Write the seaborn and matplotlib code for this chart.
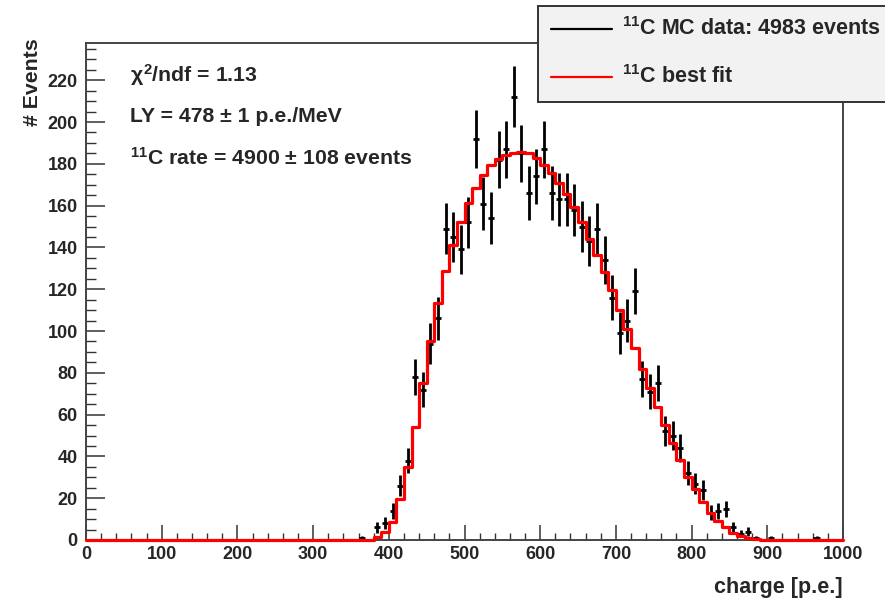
import matplotlib
matplotlib.use("Agg")

import matplotlib.pyplot as plt
import numpy as np
import pandas as pd
import seaborn as sns
from matplotlib.lines import Line2D
from matplotlib.patches import Rectangle
from matplotlib.ticker import MultipleLocator

# MC data histogram (bin centres, 10 p.e. bins; empty bins left out)
DATA_CENTERS = [365, 385, 395, 405, 415, 425, 435, 445, 455, 465, 475, 485, 495,
                505, 515, 525, 535, 545, 555, 565, 575, 585, 595, 605, 615, 625,
                635, 645, 655, 665, 675, 685, 695, 705, 715, 725, 735, 745, 755,
                765, 775, 785, 795, 805, 815, 825, 835, 845, 855, 865, 875, 885,
                905, 965]
DATA_COUNTS = [1, 6, 8, 14, 26, 38, 78, 72, 94, 106, 149, 145, 139,
               152, 192, 161, 154, 182, 187, 212, 185, 166, 174, 187, 166, 163,
               163, 158, 150, 143, 149, 134, 116, 99, 105, 119, 77, 71, 75,
               52, 50, 44, 32, 27, 24, 13, 14, 15, 6, 3, 4, 1,
               1, 1]

# best fit histogram
FIT_CENTERS = [385, 395, 405, 415, 425, 435, 445, 455, 465, 475, 485, 495, 505,
               515, 525, 535, 545, 555, 565, 575, 585, 595, 605, 615, 625, 635,
               645, 655, 665, 675, 685, 695, 705, 715, 725, 735, 745, 755, 765,
               775, 785, 795, 805, 815, 825, 835, 845, 855, 865, 875, 885]
FIT_COUNTS = [1.5, 4.0, 8.8, 19.5, 34.8, 54.2, 75.3, 95.2, 113.2, 128.7, 141.1,
              152.3, 161.1, 168.5, 174.5, 179.3, 182.5, 184.3, 185.3, 185.5,
              185.3, 182.8, 179.5, 175.6, 170.8, 165.5, 159.5, 152.0, 144.0,
              136.4, 128.4, 119.6, 110.0, 100.8, 91.7, 81.7, 72.6, 63.8, 54.8,
              46.5, 38.5, 30.3, 24.5, 18.3, 13.1, 9.2, 6.4, 3.5, 1.9, 1.1, 0.3]

STATS_TEXT = [
    r"$\chi^{2}$/ndf = 1.13",
    "LY = 478 ± 1 p.e./MeV",
    r"$^{11}$C rate = 4900 ± 108 events",
]
LEGEND_LABELS = [r"$^{11}$C MC data: 4983 events", r"$^{11}$C best fit"]

sns.set_theme(style="white")
plt.rcParams["font.family"] = ["Liberation Sans", "DejaVu Sans"]
plt.rcParams["font.weight"] = "bold"
plt.rcParams["mathtext.fontset"] = "custom"
plt.rcParams["mathtext.rm"] = "Liberation Sans:bold"
plt.rcParams["mathtext.it"] = "Liberation Sans:bold"
plt.rcParams["mathtext.bf"] = "Liberation Sans:bold"
plt.rcParams["mathtext.sf"] = "Liberation Sans:bold"

W, H = 885, 603
fig = plt.figure(figsize=(W / 100, H / 100), dpi=100)
ax = fig.add_axes([86 / W, 63 / H, (843 - 86) / W, (540 - 43) / H])

counts = np.array(DATA_COUNTS, dtype=float)
ax.errorbar(DATA_CENTERS, counts, yerr=np.sqrt(counts), xerr=4, fmt="none",
            ecolor="black", elinewidth=2.0, capsize=0, zorder=3)

fit_df = pd.DataFrame({"charge": FIT_CENTERS, "fit": FIT_COUNTS})
sns.histplot(data=fit_df, x="charge", weights="fit", binwidth=10,
             binrange=(0, 1000), element="step", fill=False, color="red",
             linewidth=2.3, ax=ax)
for line in ax.lines:
    line.set_clip_on(False)
    line.set_zorder(4)

ax.set_xlim(0, 1000)
ax.set_ylim(0, 237.8)
ax.set_xlabel("")
ax.set_ylabel("")

ax.xaxis.set_major_locator(MultipleLocator(100))
ax.xaxis.set_minor_locator(MultipleLocator(20))
ax.yaxis.set_major_locator(MultipleLocator(20))
ax.yaxis.set_minor_locator(MultipleLocator(5))
ax.tick_params(axis="x", which="major", direction="in", length=10.5, width=1.1,
               color="#333333", labelsize=13, pad=4, bottom=True)
ax.tick_params(axis="x", which="minor", direction="in", length=5.3, width=1.0,
               color="#333333", bottom=True)
ax.tick_params(axis="y", which="major", direction="in", length=14, width=1.1,
               color="#333333", labelsize=13, pad=6, left=True)
ax.tick_params(axis="y", which="minor", direction="in", length=7, width=1.0,
               color="#333333", left=True)
for lab in ax.get_xticklabels() + ax.get_yticklabels():
    lab.set_fontweight("bold")
for spine in ax.spines.values():
    spine.set_color("#444444")
    spine.set_linewidth(1.4)

y_pos = [0.936, 0.853, 0.769]
for txt, yy in zip(STATS_TEXT, y_pos):
    ax.text(0.058, yy, txt, transform=ax.transAxes, fontsize=15.3,
            fontweight="bold", va="center", ha="left")

fig.text(843 / W, 1 - 588 / H, "charge [p.e.]", fontsize=15.5,
         fontweight="bold", ha="right", va="center")
fig.text(33 / W, 1 - 38 / H, "# Events", fontsize=15.3, fontweight="bold",
         rotation=90, ha="center", va="top")

# legend box (sticks out past the right edge, as in the original canvas)
box = Rectangle((538 / W, 1 - 102 / H), 0.45, 96 / H, transform=fig.transFigure,
                facecolor="#f2f2f2", edgecolor="#333333", linewidth=1.4,
                zorder=5)
fig.patches.append(box)
for lab, col, yy in zip(LEGEND_LABELS, ["black", "red"], [29, 77]):
    fig.lines.append(Line2D([551 / W, 612 / W], [1 - yy / H, 1 - yy / H],
                            transform=fig.transFigure, color=col,
                            linewidth=1.6, zorder=6))
    fig.text(622 / W, 1 - yy / H, lab, fontsize=15.5, fontweight="bold",
             ha="left", va="center", zorder=6)

fig.savefig("out.png", dpi=100)
